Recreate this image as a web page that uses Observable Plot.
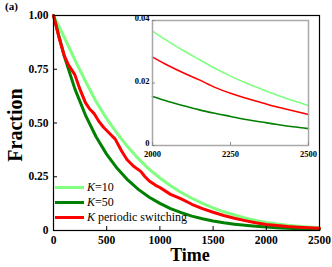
<!DOCTYPE html>
<html>
<head>
<meta charset="utf-8">
<script src="https://cdn.jsdelivr.net/npm/d3@7"></script>
<script src="https://cdn.jsdelivr.net/npm/@observablehq/plot@0.6"></script>
<style>
  html, body { margin: 0; padding: 0; background: #fff; }
  #wrap { position: relative; width: 332px; height: 267px; font-family: "Liberation Serif", "Times New Roman", serif; }
  #wrap svg { position: absolute; overflow: visible; }
  .tag { position: absolute; left: 5px; top: 0px; font-weight: bold; font-size: 11px; }
  .legend { position: absolute; left: 55px; top: 180px; font-size: 12px; line-height: 15px; }
  .legend div { display: flex; align-items: center; height: 15px; }
  .legend span.sw { display: inline-block; width: 29px; height: 3px; margin-right: 3px; }
</style>
</head>
<body>
<div id="wrap"><div class="tag">(a)</div></div>
<script>
// ---- data ----
const time = [0,100,200,300,400,500,600,700,800,900,1000,1100,1200,1300,1400,1500,1600,1700,1800,1900,2000,2100,2200,2300,2400,2500];
const k10 = [1.0,0.90,0.795,0.695,0.60,0.52,0.45,0.388,0.333,0.284,0.244,0.208,0.177,0.150,0.126,0.105,0.087,0.072,0.058,0.047,0.037,0.030,0.025,0.020,0.016,0.013];
const k50 = [1.0,0.813,0.660,0.537,0.436,0.354,0.288,0.234,0.190,0.155,0.126,0.102,0.083,0.067,0.055,0.0445,0.036,0.0294,0.0239,0.0194,0.0158,0.0128,0.0104,0.0085,0.0069,0.0056];
const switchTime = [0,50,100,140,200,250,300,340,380,430,470,530,580,640,690,750,820,860,900,960,1000,1100,1200,1300,1400,1500,1600,1700,1800,1900,2000,2100,2200,2300,2400,2500];
const switchVal = [1.0,0.90,0.815,0.77,0.725,0.655,0.595,0.565,0.545,0.505,0.48,0.45,0.425,0.37,0.33,0.30,0.275,0.25,0.23,0.21,0.20,0.168,0.147,0.122,0.102,0.085,0.070,0.057,0.046,0.036,0.0283,0.0232,0.0186,0.0151,0.0123,0.0099];

const insetTime = [2000,2050,2100,2150,2200,2250,2300,2350,2400,2450,2500];
const insetK10 = [0.0366,0.0333,0.0303,0.0275,0.0247,0.0222,0.0200,0.0180,0.0161,0.0144,0.0128];
const insetK50 = [0.0157,0.0141,0.0127,0.0114,0.0103,0.0093,0.0083,0.0075,0.0067,0.0060,0.0054];
const insetSwitch = [0.0283,0.0256,0.0232,0.0210,0.0186,0.0167,0.0151,0.0137,0.0123,0.0111,0.0099];

const xTicks = [0,500,1000,1500,2000,2500];
const yTicks = [0,0.25,0.5,0.75,1.0];
const yTickLabels = ["0","0.25","0.50","0.75","1.00"];
const insetXTicks = [2000,2250,2500];
const insetYTicks = [0,0.02,0.04];
const insetYTickLabels = ["0","0.02","0.04"];

const seriesNames = ["K=10","K=50","K periodic switching"];
const colors = ["#80ff80","#008000","#ff0000"];

// ---- build tables ----
const mainData = [
  ...time.map((t,i)=>({t, v:k10[i], s:seriesNames[0]})),
  ...time.map((t,i)=>({t, v:k50[i], s:seriesNames[1]})),
  ...switchTime.map((t,i)=>({t, v:switchVal[i], s:seriesNames[2]}))
];
const insetData = [
  ...insetTime.map((t,i)=>({t, v:insetK10[i], s:seriesNames[0]})),
  ...insetTime.map((t,i)=>({t, v:insetK50[i], s:seriesNames[1]})),
  ...insetTime.map((t,i)=>({t, v:insetSwitch[i], s:seriesNames[2]}))
];
const color = {domain: seriesNames, range: colors};
const font = `"Liberation Serif", "Times New Roman", serif`;

const main = Plot.plot({
  width: 332, height: 267,
  marginLeft: 53, marginRight: 13, marginTop: 15, marginBottom: 37,
  style: {fontFamily: font, fontSize: "11.5px", fontWeight: "bold", background: "transparent", overflow: "visible"},
  x: {domain: [0,2500]},
  y: {domain: [0,1]},
  color,
  marks: [
    Plot.line(mainData, {x:"t", y:"v", z:"s", stroke:"s", strokeWidth: 3, curve: "linear"}),
    Plot.frame({stroke: "black", strokeWidth: 1.2}),
    Plot.axisX({ticks: xTicks, tickSize: 0, tickPadding: 5, label: null, tickFormat: d3.format("d")}),
    Plot.axisX({ticks: xTicks, tickSize: 4, dy: -4, tickFormat: ()=>"", label: null}),
    Plot.axisY({ticks: yTicks, tickSize: 0, tickPadding: 5, label: null, tickFormat: d=>yTickLabels[yTicks.indexOf(d)]}),
    Plot.axisY({ticks: yTicks, tickSize: 4, dx: 4, tickFormat: ()=>"", label: null}),
  ]
});
main.style.left = "0px"; main.style.top = "0px";
document.getElementById("wrap").appendChild(main);

const inset = Plot.plot({
  width: 188, height: 143,
  marginLeft: 28, marginRight: 4, marginTop: 4, marginBottom: 14,
  style: {fontFamily: font, fontSize: "8.5px", fontWeight: "bold", background: "transparent", overflow: "visible"},
  x: {domain: [2000,2500]},
  y: {domain: [0,0.04]},
  color,
  marks: [
    Plot.frame({fill: "white"}),
    Plot.line(insetData, {x:"t", y:"v", z:"s", stroke:"s", strokeWidth: 1.6, curve: "monotone-x"}),
    Plot.frame({stroke: "#a8a8a8", strokeWidth: 1.5}),
    Plot.axisX({ticks: insetXTicks, tickSize: 0, tickPadding: 5, label: null, tickFormat: d3.format("d")}),
    Plot.axisX({ticks: insetXTicks, tickSize: 3, dy: -3, tickFormat: ()=>"", label: null, stroke: "#888"}),
    Plot.axisY({ticks: insetYTicks, tickSize: 0, tickPadding: 3, dy: -2, label: null, tickFormat: d=>insetYTickLabels[insetYTicks.indexOf(d)]}),
    Plot.axisY({ticks: insetYTicks, tickSize: 3, dx: 3, tickFormat: ()=>"", label: null, stroke: "#888"}),
  ]
});
inset.style.left = "124px"; inset.style.top = "16px";
document.getElementById("wrap").appendChild(inset);

// axis titles
const wrap = document.getElementById("wrap");
const yl = document.createElement("div");
yl.textContent = "Fraction";
Object.assign(yl.style, {position:"absolute", left:"15px", top:"125px", transform:"translate(-50%,-50%) rotate(-90deg)", fontWeight:"bold", fontSize:"20px", whiteSpace:"nowrap"});
wrap.appendChild(yl);
const xl = document.createElement("div");
xl.textContent = "Time";
Object.assign(xl.style, {position:"absolute", left:"190px", top:"255px", transform:"translate(-50%,-50%)", fontWeight:"bold", fontSize:"18px"});
wrap.appendChild(xl);

// legend
const lg = document.createElement("div");
lg.className = "legend";
seriesNames.forEach((name,i)=>{
  const row = document.createElement("div");
  const sw = document.createElement("span");
  sw.className = "sw"; sw.style.background = colors[i];
  row.appendChild(sw);
  const txt = document.createElement("span");
  const k = document.createElement("i"); k.textContent = "K";
  txt.appendChild(k);
  txt.appendChild(document.createTextNode(name.slice(1)));
  row.appendChild(txt);
  lg.appendChild(row);
});
wrap.appendChild(lg);
</script>
</body>
</html>
